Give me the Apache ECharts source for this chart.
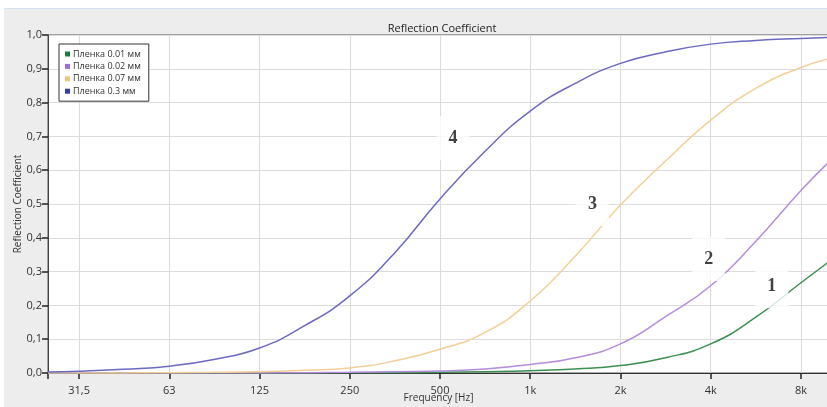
<!DOCTYPE html>
<html>
<head>
<meta charset="utf-8">
<script src="https://cdn.jsdelivr.net/npm/echarts@6/dist/echarts.min.js"></script>
<style>html,body{margin:0;padding:0;background:#fff}#c{width:827px;height:407px}</style>
</head>
<body>
<div id="c"></div>
<script>
// Tick labels (octave positions) and y labels
const xTickLabels = ['31,5', '63', '125', '250', '500', '1k', '2k', '4k', '8k'];
const yTickLabels = ['0,0', '0,1', '0,2', '0,3', '0,4', '0,5', '0,6', '0,7', '0,8', '0,9', '1,0'];
const seriesNames = ['Пленка 0.01 мм', 'Пленка 0.02 мм', 'Пленка 0.07 мм', 'Пленка 0.3 мм'];
// Frequencies (Hz, on the axis' octave grid)
const freqs = [25.2, 32, 45, 64, 90, 128, 181, 256, 362, 512, 724, 1024, 1448, 2048, 2896, 4096, 5793, 8192, 10180];
const film001 = [0, 0, 0, 0, 0, 0, 0, 0.001, 0.001, 0.002, 0.004, 0.007, 0.012, 0.022, 0.045, 0.086, 0.165, 0.267, 0.33];
const film002 = [0, 0, 0, 0, 0, 0, 0.001, 0.002, 0.004, 0.006, 0.012, 0.025, 0.045, 0.086, 0.167, 0.258, 0.39, 0.54, 0.625];
const film007 = [0, 0, 0, 0.001, 0.002, 0.004, 0.008, 0.015, 0.036, 0.07, 0.12, 0.213, 0.346, 0.497, 0.627, 0.748, 0.842, 0.904, 0.93];
const film03  = [0.003, 0.005, 0.011, 0.02, 0.04, 0.074, 0.14, 0.228, 0.356, 0.515, 0.656, 0.775, 0.857, 0.916, 0.95, 0.973, 0.984, 0.99, 0.993];
// Curve number annotations: [frequency, value, text]
const curveLabels = [[566, 0.695, '4'], [1651, 0.5, '3'], [4035, 0.337, '2'], [6553, 0.257, '1']];

const lineColors = ['#3d8f52', '#b58ddb', '#f2cf96', '#6d69c2'];
const iconColors = ['#1f7a3c', '#9c6fd3', '#f6c27c', '#3b3aa3'];
const allData = [film001, film002, film007, film03];

const xMin = 32 * Math.pow(2, -31 / 90);
const xMax = 8192 * Math.pow(2, 28 / 90);

const chart = echarts.init(document.getElementById('c'));
const font = 'Open Sans, DejaVu Sans, sans-serif';

const series = allData.map((d, i) => ({
  name: seriesNames[i],
  type: 'line',
  smooth: 0.5,
  showSymbol: false,
  symbol: 'none',
  color: iconColors[i],
  lineStyle: { color: lineColors[i], width: 1.5 },
  data: freqs.map((f, j) => [f, d[j]]),
  z: 3
}));
series.push({
  type: 'scatter',
  silent: true,
  symbolSize: 0,
  z: 4,
  data: curveLabels.map(c => [c[0], c[1], c[2]]),
  label: {
    show: true,
    position: 'inside',
    formatter: p => p.value[2],
    fontFamily: 'Liberation Serif, DejaVu Serif, serif',
    fontWeight: 'bold',
    fontSize: 18,
    color: '#111',
    backgroundColor: '#fff',
    padding: [14, 12, 12, 12]
  }
});

chart.setOption({
  backgroundColor: '#ededed',
  animation: false,
  graphic: [
    { type: 'rect', left: 0, top: 0, shape: { width: 827, height: 8 }, style: { fill: '#ffffff' }, z: -10 },
    { type: 'rect', left: 0, top: 8, shape: { width: 827, height: 1 }, style: { fill: '#d3e2f0' }, z: -10 },
    { type: 'rect', left: 0, top: 0, shape: { width: 4, height: 407 }, style: { fill: '#ffffff' }, z: -10 }
  ],
  title: {
    text: 'Reflection Coefficient',
    left: 437, textAlign: 'center', top: 18,
    textStyle: { fontFamily: font, fontSize: 11, fontWeight: 'normal', color: '#222' }
  },
  legend: {
    orient: 'vertical',
    left: 59, top: 44,
    data: seriesNames,
    icon: 'rect',
    itemWidth: 5, itemHeight: 5,
    itemGap: 2.4,
    padding: [5, 8, 5, 6],
    backgroundColor: '#fff',
    borderColor: '#333',
    borderWidth: 1,
    textStyle: { fontFamily: font, fontSize: 9, color: '#333', lineHeight: 10, padding: [0, 0, 0, -2] }
  },
  grid: {
    left: 48, top: 35, right: -2, bottom: 34,
    outerBoundsMode: 'none',
    containLabel: false,
    show: true, backgroundColor: '#fff', borderColor: '#555', borderWidth: 1
  },
  xAxis: {
    type: 'log',
    logBase: 2,
    min: xMin,
    max: xMax,
    splitNumber: 9,
    name: 'Frequency [Hz]',
    nameLocation: 'middle',
    nameGap: 20,
    nameMoveOverlap: false,
    nameTextStyle: { fontFamily: font, fontSize: 10, color: '#333' },
    axisLine: { show: true, lineStyle: { color: '#333', width: 1 } },
    axisTick: { show: true, inside: false, length: 6, lineStyle: { color: '#222', width: 1.5 } },
    axisLabel: {
      fontFamily: font, fontSize: 11, color: '#333', margin: 12,
      showMinLabel: true, showMaxLabel: true,
      formatter: v => {
        const k = Math.log2(v);
        const r = Math.round(k);
        if (Math.abs(k - r) > 1e-6) return '';
        return xTickLabels[r - 5] || '';
      }
    },
    splitLine: { show: true, lineStyle: { color: '#dcdcdc', width: 1 } }
  },
  yAxis: {
    type: 'value',
    min: 0, max: 1, interval: 0.1,
    name: 'Reflection Coefficient',
    nameLocation: 'middle',
    nameGap: 25,
    nameMoveOverlap: false,
    nameTextStyle: { fontFamily: font, fontSize: 10, color: '#333' },
    axisLine: { show: true, lineStyle: { color: '#444', width: 1 } },
    axisTick: { show: true, inside: false, length: 6, lineStyle: { color: '#222', width: 1.5 } },
    axisLabel: {
      fontFamily: font, fontSize: 11, color: '#333', margin: 6,
      formatter: v => yTickLabels[Math.round(v * 10)]
    },
    splitLine: { show: true, lineStyle: { color: '#dcdcdc', width: 1 } }
  },
  series: series
});
</script>
</body>
</html>
